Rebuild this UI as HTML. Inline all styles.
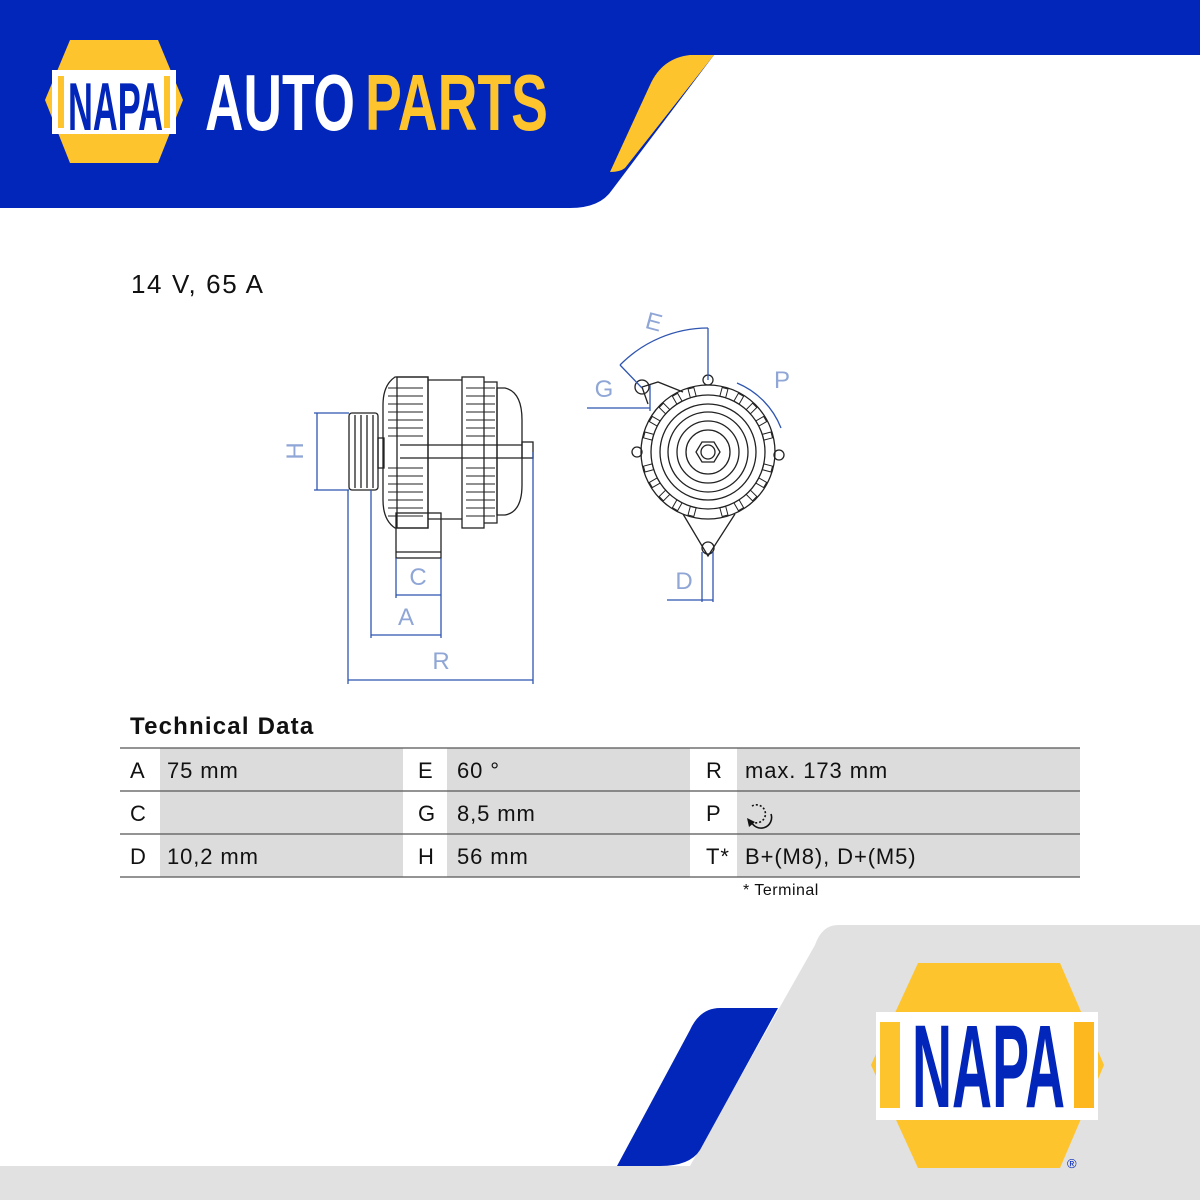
<!DOCTYPE html>
<html><head><meta charset="utf-8"><style>
html,body{margin:0;padding:0;background:#fff}
body{width:1200px;height:1200px;position:relative;overflow:hidden;font-family:"Liberation Sans",sans-serif}
.t{position:absolute;color:#111;letter-spacing:0.9px}
</style></head><body>
<svg width="1200" height="1200" style="position:absolute;left:0;top:0" xmlns="http://www.w3.org/2000/svg">
<!-- header -->
<path d="M0 0H1200V55H714L612 190Q600 208 570 208H0Z" fill="#0226b9"/>
<path d="M690 55H714L625 168Q620 172 610 172L650 85Q662 58 690 55Z" fill="#fdc42e"/>
<!-- top logo -->
<path d="M70 40H158L183 100L158 163H70L45 100Z" fill="#fdc42e"/>
<rect x="52" y="70" width="124" height="64" fill="#fff"/>
<rect x="58" y="76" width="6" height="52" fill="#fdc42e"/>
<rect x="164" y="76" width="6" height="52" fill="#fdc42e"/>
<text x="68" y="130" font-family="Liberation Sans" font-weight="bold" font-size="68" fill="#0226b9" textLength="95" lengthAdjust="spacingAndGlyphs">NAPA</text>
<text x="166" y="161" font-size="8" fill="#0226b9">®</text>
<text x="205" y="130" font-family="Liberation Sans" font-weight="bold" font-size="80" fill="#fff" textLength="150" lengthAdjust="spacingAndGlyphs">AUTO</text>
<text x="365" y="130" font-family="Liberation Sans" font-weight="bold" font-size="80" fill="#fdc42e" textLength="183" lengthAdjust="spacingAndGlyphs">PARTS</text>
<!-- bottom -->
<path d="M838 925H1200V1166H690L815 945Q822 925 838 925Z" fill="#e1e1e1"/>
<rect x="0" y="1166" width="1200" height="34" fill="#e1e1e1"/>
<path d="M720 1008H778L700 1150Q690 1166 660 1166H617L690 1030Q700 1008 720 1008Z" fill="#0226b9"/>
<path d="M918 963H1060L1104 1065L1060 1168H918L871 1065Z" fill="#fdc42e"/>
<rect x="876" y="1012" width="222" height="108" fill="#fff"/>
<rect x="880" y="1022" width="20" height="86" fill="#fdc42e"/>
<rect x="1074" y="1022" width="20" height="86" fill="#fdb820"/>
<text x="912" y="1107" font-family="Liberation Sans" font-weight="bold" font-size="118" fill="#0226b9" textLength="153" lengthAdjust="spacingAndGlyphs">NAPA</text>
<text x="1067" y="1168" font-size="13" fill="#0226b9">®</text>

<!-- side view drawing -->
<g fill="none" stroke="#222" stroke-width="1.3">
<rect x="349" y="413" width="29" height="77" rx="3"/>
<line x1="355" y1="415" x2="355" y2="488"/><line x1="361" y1="415" x2="361" y2="488"/><line x1="367" y1="415" x2="367" y2="488"/><line x1="373" y1="415" x2="373" y2="488"/>
<rect x="378" y="438" width="6" height="30"/>
<path d="M395 377H428V528H395Q383 520 383 500V405Q383 385 395 377Z"/>
<rect x="397" y="377" width="31" height="151"/>
<line x1="428" y1="380" x2="462" y2="380"/><line x1="428" y1="519" x2="462" y2="519"/>
<line x1="400" y1="445" x2="522" y2="445"/><line x1="400" y1="458" x2="522" y2="458"/>
<rect x="462" y="377" width="22" height="151"/>
<path d="M484 382H497V523H484"/>
<path d="M497 388H505Q522 392 522 420V485Q522 512 505 515H497Z"/>
<rect x="522" y="442" width="11" height="16"/>
<rect x="396" y="513" width="45" height="45"/>
<line x1="396" y1="552" x2="441" y2="552"/>
<g stroke-width="1">
<path d="M388 388H423M388 396H423M388 404H423M388 412H423M388 420H423M388 428H423M388 436H423M388 468H423M388 476H423M388 484H423M388 492H423M388 500H423M388 508H423M388 516H423"/>
<path d="M466 388H495M466 396H495M466 404H495M466 412H495M466 420H495M466 428H495M466 436H495M466 468H495M466 476H495M466 484H495M466 492H495M466 500H495M466 508H495M466 516H495"/>
</g>
</g>
<!-- side dims -->
<g stroke="#2f55b0" stroke-width="1.3" fill="none">
<line x1="317" y1="413" x2="317" y2="490"/><line x1="314" y1="413" x2="349" y2="413"/><line x1="314" y1="490" x2="349" y2="490"/>
<line x1="348" y1="490" x2="348" y2="684"/><line x1="533" y1="452" x2="533" y2="684"/><line x1="348" y1="680" x2="533" y2="680"/>
<line x1="371" y1="490" x2="371" y2="638"/><line x1="441" y1="558" x2="441" y2="638"/><line x1="371" y1="635" x2="441" y2="635"/>
<line x1="396" y1="558" x2="396" y2="598"/><line x1="396" y1="595" x2="441" y2="595"/>
</g>
<g font-family="Liberation Sans" font-size="24" fill="#8fa6d6" text-anchor="middle">
<text x="441" y="669">R</text><text x="406" y="625">A</text><text x="418" y="585">C</text>
<text x="295" y="459" transform="rotate(-90 295 451)">H</text>
<text x="654" y="330" transform="rotate(15 654 322)">E</text><text x="604" y="397">G</text><text x="782" y="388">P</text><text x="684" y="589">D</text>
</g>
<!-- front view -->
<g fill="none" stroke="#222" stroke-width="1.3" transform="translate(708,452)">
<circle r="67"/><circle r="57"/><circle r="48"/><circle r="40"/><circle r="31"/><circle r="22"/>
<polygon points="12,0 6,10 -6,10 -12,0 -6,-10 6,-10"/><circle r="7"/>
<path d="M-60 -48L-66 -65L-50 -70L-25 -60"/><circle cx="-66" cy="-65" r="7"/>
<circle cx="0" cy="-72" r="5"/><circle cx="-71" cy="0" r="5"/><circle cx="71" cy="3" r="5"/>
<path d="M-25 62L0 104L27 62"/><circle cx="0" cy="96" r="6"/>
<g stroke-width="1">
<rect x="-3" y="-66" width="6" height="9" transform="rotate(15)"/><rect x="-3" y="-66" width="6" height="9" transform="rotate(30)"/><rect x="-3" y="-66" width="6" height="9" transform="rotate(45)"/><rect x="-3" y="-66" width="6" height="9" transform="rotate(60)"/><rect x="-3" y="-66" width="6" height="9" transform="rotate(75)"/><rect x="-3" y="-66" width="6" height="9" transform="rotate(105)"/><rect x="-3" y="-66" width="6" height="9" transform="rotate(120)"/><rect x="-3" y="-66" width="6" height="9" transform="rotate(135)"/><rect x="-3" y="-66" width="6" height="9" transform="rotate(150)"/><rect x="-3" y="-66" width="6" height="9" transform="rotate(165)"/><rect x="-3" y="-66" width="6" height="9" transform="rotate(195)"/><rect x="-3" y="-66" width="6" height="9" transform="rotate(210)"/><rect x="-3" y="-66" width="6" height="9" transform="rotate(225)"/><rect x="-3" y="-66" width="6" height="9" transform="rotate(240)"/><rect x="-3" y="-66" width="6" height="9" transform="rotate(255)"/><rect x="-3" y="-66" width="6" height="9" transform="rotate(285)"/><rect x="-3" y="-66" width="6" height="9" transform="rotate(300)"/><rect x="-3" y="-66" width="6" height="9" transform="rotate(315)"/><rect x="-3" y="-66" width="6" height="9" transform="rotate(330)"/><rect x="-3" y="-66" width="6" height="9" transform="rotate(345)"/>
</g>
</g>
<g stroke="#2f55b0" stroke-width="1.3" fill="none">
<line x1="708" y1="328" x2="708" y2="380"/>
<path d="M708 328A124 124 0 0 0 620 365"/>
<line x1="620" y1="365" x2="642" y2="388"/>
<line x1="587" y1="408" x2="650" y2="408"/><line x1="650" y1="385" x2="650" y2="411"/>
<path d="M737 383A80 80 0 0 1 781 428"/>
<line x1="667" y1="600" x2="713" y2="600"/><line x1="702" y1="552" x2="702" y2="602"/><line x1="713" y1="552" x2="713" y2="602"/>
</g>
<!-- table -->
<rect x="160" y="748" width="243" height="129" fill="#dcdcdc"/>
<rect x="447" y="748" width="243" height="129" fill="#dcdcdc"/>
<rect x="737" y="748" width="343" height="129" fill="#dcdcdc"/>
<g stroke="#555" stroke-width="1.2"><line x1="120" y1="748" x2="1080" y2="748"/><line x1="120" y1="791" x2="1080" y2="791"/><line x1="120" y1="834" x2="1080" y2="834"/><line x1="120" y1="877" x2="1080" y2="877"/></g>
<g fill="none" stroke="#111" stroke-width="1.6"><path d="M752 806A9 9 0 1 1 751 821" stroke-dasharray="2 2"/><path d="M751 821A9 9 0 0 0 771 814"/></g>
<path d="M747 818L755 822L749 827Z" fill="#111"/>
</svg>
<div class="t" style="left:131px;top:269px;font-size:26px;letter-spacing:1.6px">14 V, 65 A</div>
<div class="t" style="left:130px;top:713px;font-size:24px;font-weight:bold;letter-spacing:1.2px">Technical Data</div>
<div class="t" style="left:130px;top:757px;font-size:22px;line-height:28px">A</div>
<div class="t" style="left:167px;top:757px;font-size:22px;line-height:28px">75 mm</div>
<div class="t" style="left:418px;top:757px;font-size:22px;line-height:28px">E</div>
<div class="t" style="left:457px;top:757px;font-size:22px;line-height:28px">60 °</div>
<div class="t" style="left:706px;top:757px;font-size:22px;line-height:28px">R</div>
<div class="t" style="left:745px;top:757px;font-size:22px;line-height:28px">max. 173 mm</div>
<div class="t" style="left:130px;top:800px;font-size:22px;line-height:28px">C</div>
<div class="t" style="left:418px;top:800px;font-size:22px;line-height:28px">G</div>
<div class="t" style="left:457px;top:800px;font-size:22px;line-height:28px">8,5 mm</div>
<div class="t" style="left:706px;top:800px;font-size:22px;line-height:28px">P</div>
<div class="t" style="left:130px;top:843px;font-size:22px;line-height:28px">D</div>
<div class="t" style="left:167px;top:843px;font-size:22px;line-height:28px">10,2 mm</div>
<div class="t" style="left:418px;top:843px;font-size:22px;line-height:28px">H</div>
<div class="t" style="left:457px;top:843px;font-size:22px;line-height:28px">56 mm</div>
<div class="t" style="left:706px;top:843px;font-size:22px;line-height:28px">T*</div>
<div class="t" style="left:745px;top:843px;font-size:22px;line-height:28px">B+(M8), D+(M5)</div>
<div class="t" style="left:743px;top:882px;font-size:16px;letter-spacing:0.5px">* Terminal</div>
</body></html>
